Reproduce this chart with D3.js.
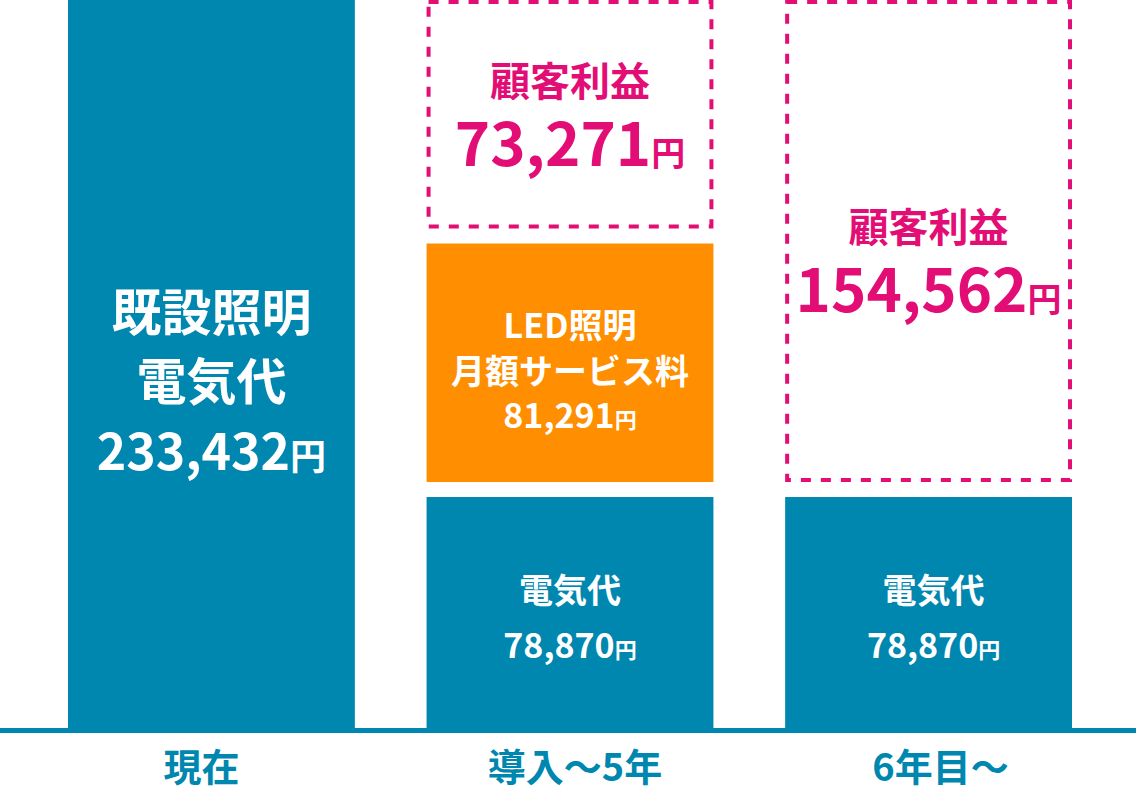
<!DOCTYPE html>
<html>
<head>
<meta charset="utf-8">
<script src="https://cdn.jsdelivr.net/npm/d3@7"></script>
<style>
  html, body { margin: 0; padding: 0; background: #ffffff; }
  svg { display: block; }
  text { font-family: "Noto Sans CJK JP", "Noto Sans", sans-serif; font-weight: 700; }
</style>
</head>
<body>
<svg id="chart" width="1136" height="795"></svg>
<script>
// ---- data ----
const categories = ["現在", "導入～5年", "6年目～"];
const electricityCost = [233432, 78870, 78870];   // 電気代
const ledServiceFee = [0, 81291, 0];              // LED照明 月額サービス料
const customerProfit = [0, 73271, 154562];        // 顧客利益
const electricityTitles = [["既設照明", "電気代"], ["電気代"], ["電気代"]];
const ledTitles = ["LED照明", "月額サービス料"];
const profitTitles = ["顧客利益"];
const unitLabel = "円";

// ---- layout ----
const W = 1136, H = 795;
const TEAL = "#0087b0", ORANGE = "#ff8e00", PINK = "#e30e75";
const segmentGap = 15;

const svg = d3.select("#chart");

const x = d3.scaleBand()
  .domain(categories)
  .range([68, 1072])
  .paddingInner(0.2)
  .paddingOuter(0);

const total = d3.max(categories, (c, i) => electricityCost[i] + ledServiceFee[i] + customerProfit[i]);
const y = d3.scaleLinear().domain([0, total]).range([728, 0]);

const fmt = d3.format(",");

// label styles: font sizes and line offsets (ink centres) from segment centre
const styles = {
  big:    { titleSize: 50, valueSize: 50, unitSize: 36, dys: [-52, 17, 87] },
  teal:   { titleSize: 34, valueSize: 34, unitSize: 22, dys: [-22.5, 32.5] },
  orange: { titleSize: 34, valueSize: 34, unitSize: 22, dys: [-38, 8.5, 52.5] },
  pink:   { titleSize: 40, valueSize: 60, unitSize: 34, dys: [-30, 33] }
};
const pinkShift = [0, -3, 16];
const tealShiftX = [0, 0, 5];
const categoryLabelShiftX = [-10, 5, 12];

// build stacked segments
const segments = [];
categories.forEach((c, i) => {
  const parts = [
    { kind: "electricity", value: electricityCost[i], titles: electricityTitles[i] },
    { kind: "led", value: ledServiceFee[i], titles: ledTitles },
    { kind: "profit", value: customerProfit[i], titles: profitTitles }
  ];
  let acc = 0;
  parts.forEach(p => {
    if (p.value > 0) {
      segments.push({ cat: c, idx: i, kind: p.kind, value: p.value, titles: p.titles, y0: acc, y1: acc + p.value });
      acc += p.value;
    }
  });
});

const gBars = svg.append("g");

segments.forEach(s => {
  const bx = x(s.cat), bw = x.bandwidth();
  const bottom = y(s.y0);
  const top = y(s.y1) + (s.y1 < total ? segmentGap : 0);
  const h = bottom - top;
  s.box = { bx, bw, top, bottom };

  if (s.kind === "profit") {
    const sw = 4;
    gBars.append("rect")
      .attr("x", bx + sw / 2).attr("y", top + sw / 2)
      .attr("width", bw - sw).attr("height", h - sw)
      .attr("fill", "none")
      .attr("stroke", PINK)
      .attr("stroke-width", sw)
      .attr("stroke-dasharray", "10 10");
  } else {
    gBars.append("rect")
      .attr("x", bx).attr("y", top)
      .attr("width", bw).attr("height", h)
      .attr("fill", s.kind === "led" ? ORANGE : TEAL);
  }
});

// baseline
svg.append("line")
  .attr("x1", 0).attr("x2", W)
  .attr("y1", y(0) + 2.5).attr("y2", y(0) + 2.5)
  .attr("stroke", TEAL)
  .attr("stroke-width", 5);

// segment labels
const gLabels = svg.append("g");
segments.forEach(s => {
  let st, color, cx = s.box.bx + s.box.bw / 2;
  let cy = (s.box.top + s.box.bottom) / 2;
  if (s.kind === "electricity") {
    st = s.idx === 0 ? styles.big : styles.teal;
    color = "#ffffff";
    cx += tealShiftX[s.idx];
  } else if (s.kind === "led") {
    st = styles.orange; color = "#ffffff";
  } else {
    st = styles.pink; color = PINK;
    cy += pinkShift[s.idx];
  }

  s.titles.forEach((t, k) => {
    gLabels.append("text")
      .attr("x", cx)
      .attr("y", cy + st.dys[k] + 0.38 * st.titleSize)
      .attr("text-anchor", "middle")
      .attr("fill", color)
      .attr("font-size", st.titleSize)
      .text(t);
  });
  const k = s.titles.length;
  const vt = gLabels.append("text")
    .attr("x", cx)
    .attr("y", cy + st.dys[k] + 0.37 * st.valueSize)
    .attr("text-anchor", "middle")
    .attr("fill", color)
    .attr("font-size", st.valueSize);
  vt.append("tspan").text(fmt(s.value));
  vt.append("tspan").attr("font-size", st.unitSize).text(unitLabel);
});

// category labels
svg.append("g").selectAll("text")
  .data(categories)
  .join("text")
  .attr("x", (d, i) => x(d) + x.bandwidth() / 2 + categoryLabelShiftX[i])
  .attr("y", 767 + 0.38 * 38)
  .attr("text-anchor", "middle")
  .attr("fill", TEAL)
  .attr("font-size", 38)
  .text(d => d);
</script>
</body>
</html>
